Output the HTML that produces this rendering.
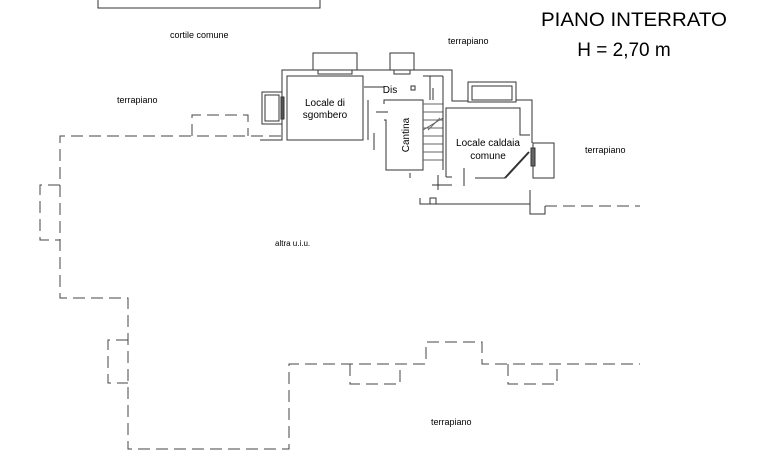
<!DOCTYPE html>
<html><head><style>body{margin:0;background:#fff}svg{display:block}text{font-family:"Liberation Sans",sans-serif;fill:#000}</style></head>
<body><svg width="776" height="457" viewBox="0 0 776 457">
<g fill="none" stroke="#333" stroke-width="1">
<rect x="98" y="-5" width="222" height="13"/>
<g stroke-dasharray="12,6" stroke="#444">
<polyline points="281,136 60,136 60,298 128,298 128,449 289,449 289,364 426,364 426,342 482,342 482,364 640,364"/>
<polyline points="192,136 192,115 248,115 248,136"/>
<polyline points="60,185 40,185 40,240 60,240"/>
<polyline points="128,340 108,340 108,383 128,383"/>
<polyline points="350,364 350,384 400,384 400,364"/>
<polyline points="508,364 508,384 557,384 557,364"/>
<line x1="545" y1="206" x2="640" y2="206"/>
</g>
<polyline points="282,130 282,70 452,70 452,101 468,101"/>
<rect x="287" y="76" width="76" height="64"/>
<rect x="313" y="53" width="44" height="17"/><rect x="318" y="70" width="34" height="4"/>
<rect x="390" y="53" width="24" height="17"/><rect x="394" y="70" width="16" height="4"/>
<rect x="262" y="92" width="20" height="32"/><rect x="265" y="95" width="14" height="26"/><rect x="281" y="97" width="3" height="22" fill="#555"/>
<polyline points="260,140 282,140 282,130"/>
<line x1="364" y1="87" x2="384" y2="87"/>
<line x1="376" y1="112" x2="388" y2="112"/>
<line x1="368" y1="100" x2="368" y2="140"/>
<line x1="374" y1="133" x2="374" y2="150"/>
<polyline points="384,104 384,100 423,100 423,170 386,170 386,120 384,120"/>
<line x1="410" y1="173" x2="410" y2="178"/>
<line x1="423" y1="76" x2="443" y2="76"/>
<line x1="430" y1="76" x2="430" y2="100"/>
<rect x="411" y="86" width="4" height="4"/>
<line x1="433" y1="88" x2="433" y2="100"/>
<g stroke="#666"><line x1="423" y1="104" x2="443" y2="104"/><line x1="423" y1="112" x2="443" y2="112"/><line x1="423" y1="120" x2="443" y2="120"/><line x1="423" y1="128" x2="443" y2="128"/><line x1="423" y1="136" x2="443" y2="136"/><line x1="423" y1="144" x2="443" y2="144"/><line x1="423" y1="152" x2="443" y2="152"/><line x1="423" y1="160" x2="443" y2="160"/><line x1="423" y1="130" x2="443" y2="118"/><line x1="428" y1="130" x2="440" y2="118"/></g>
<line x1="443" y1="76" x2="443" y2="170"/>
<polyline points="446,177 446,108 520,108 520,135 530,135"/>
<rect x="468" y="82" width="48" height="20"/><rect x="472" y="86" width="40" height="14"/>
<polyline points="516,100 532,100 532,143"/>
<rect x="533" y="143" width="21" height="35"/><rect x="531" y="148" width="4" height="18" fill="#666"/>
<polyline points="446,177 452,177"/>
<line x1="475" y1="178" x2="505" y2="178"/>
<line x1="505" y1="178" x2="529" y2="152" stroke-width="2"/>
<line x1="464" y1="168" x2="464" y2="186"/>
<line x1="432" y1="185" x2="452" y2="185"/>
<line x1="438" y1="175" x2="438" y2="190"/>
<polyline points="420,198 420,204 530,204 530,214 545,214 545,206"/>
<polyline points="430,204 430,198 436,198 436,204"/>
<line x1="530" y1="190" x2="530" y2="204"/>
</g>
<text x="170" y="38" font-size="9">cortile comune</text>
<text x="448" y="44" font-size="9">terrapiano</text>
<text x="117" y="103" font-size="9">terrapiano</text>
<text x="585" y="153" font-size="9">terrapiano</text>
<text x="275" y="246" font-size="8">altra u.i.u.</text>
<text x="431" y="425" font-size="9">terrapiano</text>
<text x="325" y="106" font-size="10" text-anchor="middle">Locale di</text>
<text x="325" y="118" font-size="10" text-anchor="middle">sgombero</text>
<text x="390" y="93" font-size="10" text-anchor="middle">Dis</text>
<text x="406" y="135" font-size="10" text-anchor="middle" transform="rotate(-90 406 135)" dy="3">Cantina</text>
<text x="488" y="146" font-size="10" text-anchor="middle">Locale caldaia</text>
<text x="488" y="159" font-size="10" text-anchor="middle">comune</text>
<text x="634" y="26" font-size="19" text-anchor="middle" textLength="186" lengthAdjust="spacingAndGlyphs">PIANO INTERRATO</text>
<text x="624" y="56" font-size="19" text-anchor="middle">H = 2,70 m</text>
</svg></body></html>
